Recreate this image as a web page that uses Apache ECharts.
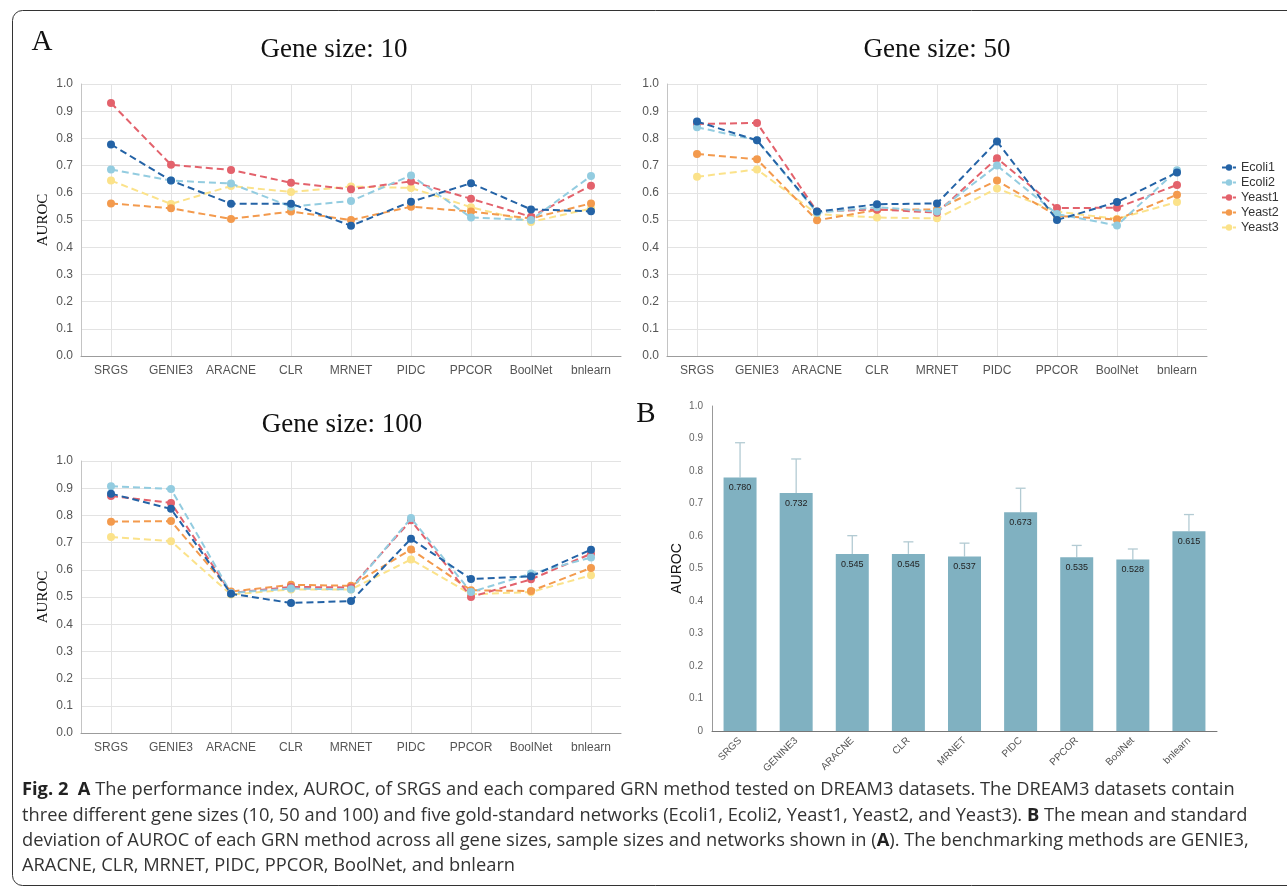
<!DOCTYPE html>
<html><head><meta charset="utf-8">
<script src="https://cdn.jsdelivr.net/npm/echarts@6/dist/echarts.min.js"></script>
<style>html,body{margin:0;padding:0;background:#fff;} #c{width:1287px;height:887px;}</style>
</head><body><div id="c"></div>
<script>
const methods = ['SRGS','GENIE3','ARACNE','CLR','MRNET','PIDC','PPCOR','BoolNet','bnlearn'];
const barMethods = ['SRGS','GENINE3','ARACNE','CLR','MRNET','PIDC','PPCOR','BoolNet','bnlearn'];
const networks = ['Ecoli1','Ecoli2','Yeast1','Yeast2','Yeast3'];
const netColors = ['#2463a6','#93cce0','#e3626c','#f39a4d','#fbe28a'];

// Gene size 10
const g10_Ecoli1 = [0.778, 0.645, 0.560, 0.560, 0.479, 0.567, 0.635, 0.539, 0.532];
const g10_Ecoli2 = [0.686, 0.645, 0.634, 0.549, 0.570, 0.664, 0.509, 0.500, 0.662];
const g10_Yeast1 = [0.930, 0.703, 0.684, 0.637, 0.613, 0.642, 0.578, 0.512, 0.626];
const g10_Yeast2 = [0.561, 0.543, 0.504, 0.531, 0.500, 0.549, 0.531, 0.506, 0.561];
const g10_Yeast3 = [0.645, 0.559, 0.625, 0.603, 0.623, 0.618, 0.547, 0.493, 0.542];
// Gene size 50
const g50_Ecoli1 = [0.862, 0.793, 0.531, 0.558, 0.561, 0.789, 0.500, 0.566, 0.675];
const g50_Ecoli2 = [0.841, 0.793, 0.527, 0.547, 0.531, 0.700, 0.522, 0.480, 0.683];
const g50_Yeast1 = [0.853, 0.857, 0.531, 0.539, 0.527, 0.727, 0.544, 0.545, 0.629];
const g50_Yeast2 = [0.743, 0.723, 0.499, 0.537, 0.539, 0.645, 0.515, 0.502, 0.593];
const g50_Yeast3 = [0.659, 0.686, 0.522, 0.509, 0.506, 0.616, 0.531, 0.504, 0.566];
// Gene size 100
const g100_Ecoli1 = [0.880, 0.824, 0.512, 0.478, 0.485, 0.714, 0.566, 0.576, 0.674];
const g100_Ecoli2 = [0.907, 0.897, 0.515, 0.531, 0.528, 0.790, 0.518, 0.586, 0.645];
const g100_Yeast1 = [0.871, 0.846, 0.515, 0.537, 0.535, 0.782, 0.500, 0.565, 0.659];
const g100_Yeast2 = [0.777, 0.779, 0.520, 0.545, 0.541, 0.675, 0.525, 0.522, 0.607];
const g100_Yeast3 = [0.721, 0.705, 0.509, 0.528, 0.528, 0.638, 0.510, 0.518, 0.580];
// Panel B
const barMean = [0.780, 0.732, 0.545, 0.545, 0.537, 0.673, 0.535, 0.528, 0.615];
const barStd  = [0.107, 0.105, 0.056, 0.037, 0.041, 0.074, 0.036, 0.032, 0.051];

const panels = [
  [g10_Ecoli1, g10_Ecoli2, g10_Yeast1, g10_Yeast2, g10_Yeast3],
  [g50_Ecoli1, g50_Ecoli2, g50_Yeast1, g50_Yeast2, g50_Yeast3],
  [g100_Ecoli1, g100_Ecoli2, g100_Yeast1, g100_Yeast2, g100_Yeast3]
];

const SANS = '"Liberation Sans", Arial, sans-serif';
const SERIF = '"Liberation Serif", "Times New Roman", serif';
const CAP = '"Open Sans", "Noto Sans", sans-serif';
const CAPSIZE = 18.3;

const chart = echarts.init(document.getElementById('c'), null, {renderer: 'canvas'});

const grids = [
  {left: 81, top: 84, width: 540, height: 272},
  {left: 667, top: 84, width: 540, height: 272},
  {left: 81, top: 461, width: 540, height: 272},
  {left: 712, top: 406, width: 505, height: 325}
].map(g => Object.assign({outerBoundsMode: 'none', containLabel: false}, g));

function lineX(gi) {
  return {
    type: 'category', gridIndex: gi, data: methods, boundaryGap: true,
    axisLine: {show: true, lineStyle: {color: '#9c9c9c', width: 1}},
    axisTick: {show: false},
    axisLabel: {color: '#555', fontSize: 12, fontFamily: SANS, margin: 9, interval: 0},
    splitLine: {show: true, alignWithLabel: true, interval: 0, lineStyle: {color: '#e3e3e3', width: 1}}
  };
}
function lineY(gi, withName) {
  return {
    type: 'value', gridIndex: gi, min: 0, max: 1, interval: 0.1,
    axisLine: {show: true, lineStyle: {color: '#c4c4c4', width: 1}},
    axisTick: {show: false},
    axisLabel: {formatter: v => v.toFixed(1), color: '#555', fontSize: 12, fontFamily: SANS, margin: 8},
    splitLine: {show: true, lineStyle: {color: '#e3e3e3', width: 1}},
    name: withName ? 'AUROC' : '', nameLocation: 'middle', nameGap: 30,
    nameTextStyle: {fontFamily: SERIF, fontSize: 15, color: '#111'}
  };
}

const series = [];
panels.forEach((arrs, pi) => {
  arrs.forEach((vals, ni) => {
    series.push({
      type: 'line', name: networks[ni], xAxisIndex: pi, yAxisIndex: pi,
      data: vals, symbol: 'circle', symbolSize: 8, showSymbol: true,
      z: 10 - ni,
      itemStyle: {color: netColors[ni]},
      lineStyle: {color: netColors[ni], width: 2, type: [7, 4]},
      emphasis: {disabled: true}, silent: true, animation: false
    });
  });
});

series.push({
  type: 'bar', xAxisIndex: 3, yAxisIndex: 3, data: barMean, barWidth: 33,
  itemStyle: {color: '#80b1c1'}, z: 3,
  label: {show: true, position: 'insideTop', distance: 6, fontSize: 9, color: '#222',
    fontFamily: SANS, formatter: p => p.value.toFixed(3)},
  emphasis: {disabled: true}, silent: true, animation: false
});
series.push({
  type: 'custom', xAxisIndex: 3, yAxisIndex: 3, z: 2, silent: true, animation: false,
  data: barMean.map((m, i) => [i, m, m + barStd[i]]),
  renderItem: function (params, api) {
    const p0 = api.coord([api.value(0), api.value(1)]);
    const p1 = api.coord([api.value(0), api.value(2)]);
    const st = {stroke: '#b3cbd3', lineWidth: 1.3};
    return {type: 'group', children: [
      {type: 'line', shape: {x1: p0[0], y1: p0[1], x2: p1[0], y2: p1[1]}, style: st},
      {type: 'line', shape: {x1: p1[0] - 5, y1: p1[1], x2: p1[0] + 5, y2: p1[1]}, style: st}
    ]};
  }
});

const boldRich = {b: {fontWeight: 'bold', fontFamily: CAP, fontSize: CAPSIZE, fill: '#222'}};
function capLine(y, text) {
  return {type: 'text', x: 22, y: y, silent: true, style: {text: text, rich: boldRich,
    fontFamily: CAP, fontSize: CAPSIZE, fill: '#333', textVerticalAlign: 'middle'}};
}

const option = {
  backgroundColor: '#fff',
  animation: false,
  grid: grids,
  xAxis: [lineX(0), lineX(1), lineX(2), {
    type: 'category', gridIndex: 3, data: barMethods, boundaryGap: true,
    axisLine: {show: true, lineStyle: {color: '#777', width: 1}},
    axisTick: {show: false},
    axisLabel: {rotate: 45, color: '#555', fontSize: 10, fontFamily: SANS, margin: 8, interval: 0},
    splitLine: {show: false}
  }],
  yAxis: [lineY(0, true), lineY(1, false), lineY(2, true), {
    type: 'value', gridIndex: 3, min: 0, max: 1, interval: 0.1,
    axisLine: {show: true, lineStyle: {color: '#999', width: 1}},
    axisTick: {show: false},
    axisLabel: {formatter: v => v === 0 ? '0' : v.toFixed(1), color: '#666', fontSize: 10, fontFamily: SANS, margin: 9},
    splitLine: {show: false},
    name: 'AUROC', nameLocation: 'middle', nameGap: 28,
    nameTextStyle: {fontFamily: SANS, fontSize: 14, color: '#111'}
  }],
  legend: {
    show: true, orient: 'vertical', left: 1216, top: 156,
    data: networks, itemWidth: 14, itemHeight: 8, itemGap: 2,
    textStyle: {fontSize: 12.5, fontFamily: SANS, color: '#333', lineHeight: 12},
    selectedMode: false
  },
  series: series,
  graphic: [
    {type: 'rect', silent: true, shape: {x: 12.5, y: 10.5, width: 1300, height: 875, r: 10},
      style: {fill: 'none', stroke: '#333', lineWidth: 1}},
    {type: 'text', x: 42, y: 42, style: {text: 'A', fontFamily: SERIF, fontSize: 29, fill: '#111', textAlign: 'center', textVerticalAlign: 'middle'}},
    {type: 'text', x: 646, y: 414, style: {text: 'B', fontFamily: SERIF, fontSize: 29, fill: '#111', textAlign: 'center', textVerticalAlign: 'middle'}},
    {type: 'text', x: 334, y: 50, style: {text: 'Gene size: 10', fontFamily: SERIF, fontSize: 27, fill: '#111', textAlign: 'center', textVerticalAlign: 'middle'}},
    {type: 'text', x: 937, y: 50, style: {text: 'Gene size: 50', fontFamily: SERIF, fontSize: 27, fill: '#111', textAlign: 'center', textVerticalAlign: 'middle'}},
    {type: 'text', x: 342, y: 425, style: {text: 'Gene size: 100', fontFamily: SERIF, fontSize: 27, fill: '#111', textAlign: 'center', textVerticalAlign: 'middle'}},
    capLine(790, '{b|Fig. 2  A} The performance index, AUROC, of SRGS and each compared GRN method tested on DREAM3 datasets. The DREAM3 datasets contain'),
    capLine(816, 'three different gene sizes (10, 50 and 100) and five gold-standard networks (Ecoli1, Ecoli2, Yeast1, Yeast2, and Yeast3). {b|B} The mean and standard'),
    capLine(841, 'deviation of AUROC of each GRN method across all gene sizes, sample sizes and networks shown in ({b|A}). The benchmarking methods are GENIE3,'),
    capLine(866, 'ARACNE, CLR, MRNET, PIDC, PPCOR, BoolNet, and bnlearn')
  ]
};
chart.setOption(option);
</script></body></html>
